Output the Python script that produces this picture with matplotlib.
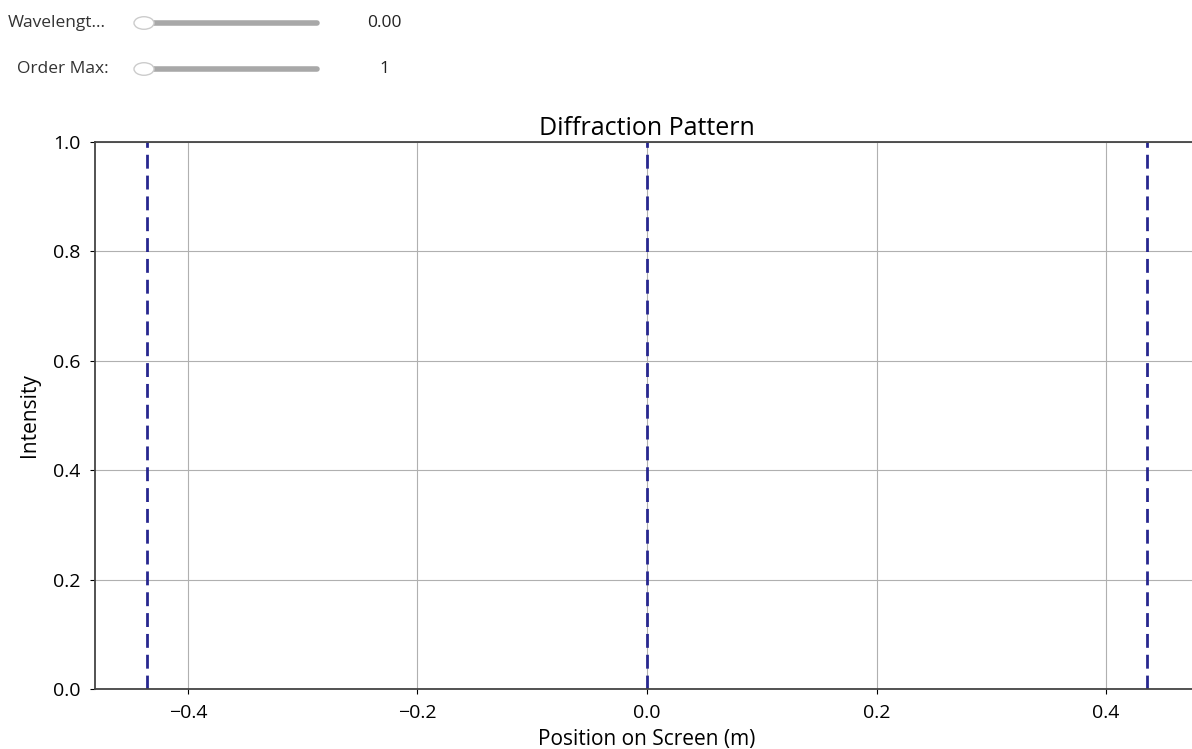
import numpy as np
import matplotlib.pyplot as plt
from matplotlib.patches import Circle

plt.rcParams['font.family'] = ['Open Sans', 'DejaVu Sans']

# slider state shown above the plot
slider_labels = ['Wavelengt...', 'Order Max:']
slider_values = ['0.00', '1']

# positions of the diffraction maxima (m)
maxima_pos = [-0.436, 0.0, 0.436]
x_limits = (-0.481, 0.481)

fig = plt.figure(figsize=(11.92, 7.49), dpi=100)

# Fake widget sliders along the top
slider_y = [1 - 23 / 749, 1 - 69 / 749]
label_x = [8 / 1192, 17 / 1192]
for lab, val, y, lx in zip(slider_labels, slider_values, slider_y, label_x):
    fig.text(lx, y, lab, fontsize=12.5, color='#333333', va='center', ha='left')
    fig.add_artist(plt.Line2D([150 / 1192, 317 / 1192], [y, y], color='#a8a8a8',
                              lw=4, solid_capstyle='round', transform=fig.transFigure))
    fig.add_artist(Circle((144 / 1192, y), 10 / 1192, transform=fig.transFigure,
                          facecolor='white', edgecolor='#cccccc', lw=1, zorder=5))
    fig.text(384 / 1192, y, val, fontsize=12.5, color='#222222',
             va='center', ha='center')

# Main axes, right edge runs past the figure like in the cropped screenshot
ax = fig.add_axes([95 / 1192, 1 - 689 / 749, (1199 - 95) / 1192, (689 - 142) / 749])
for xp in maxima_pos:
    ax.axvline(xp, color='#27278f', linestyle=(0, (5, 2.5)), lw=2)

ax.set_xlim(*x_limits)
ax.set_ylim(0, 1)
ax.set_title('Diffraction Pattern', fontsize=18, pad=5)
ax.set_xlabel('Position on Screen (m)', fontsize=15, labelpad=5)
ax.set_ylabel('Intensity', fontsize=15, labelpad=9)
ax.tick_params(labelsize=14, pad=7)
ax.grid(True)
for s in ax.spines.values():
    s.set_color('#444444')
    s.set_linewidth(1.3)

fig.savefig('out.png', dpi=100)
